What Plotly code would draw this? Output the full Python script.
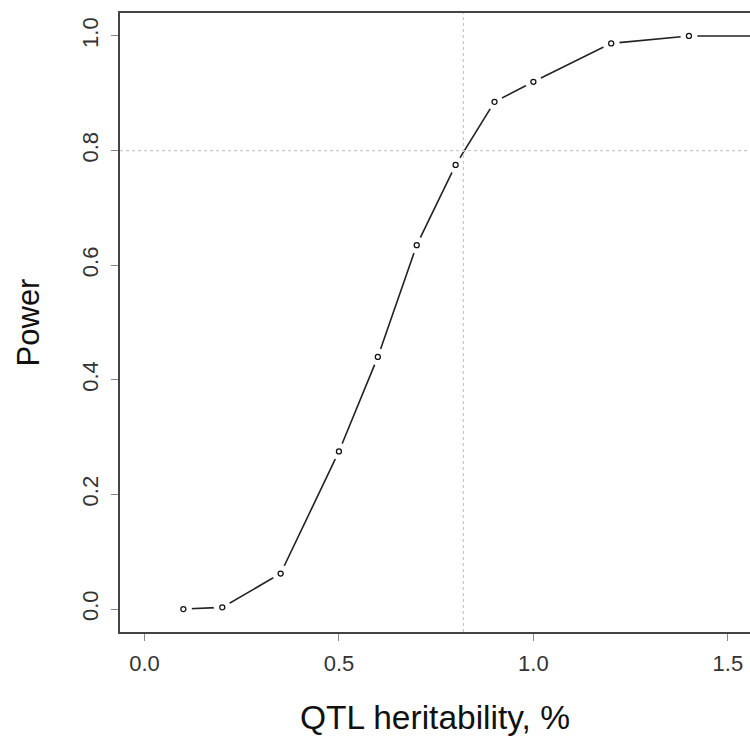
import plotly.graph_objects as go

heritability = [0.1, 0.2, 0.35, 0.5, 0.6, 0.7, 0.8, 0.9, 1.0, 1.2, 1.4, 1.6]
power = [0.0, 0.003, 0.062, 0.275, 0.44, 0.635, 0.775, 0.885, 0.92, 0.987, 1.0, 1.0]
x_ticks = [0.0, 0.5, 1.0, 1.5]
x_tick_labels = ["0.0", "0.5", "1.0", "1.5"]
y_ticks = [0.0, 0.2, 0.4, 0.6, 0.8, 1.0]
y_tick_labels = ["0.0", "0.2", "0.4", "0.6", "0.8", "1.0"]
ref_x = 0.82
ref_y = 0.8

FONT = "Liberation Sans, Arial, sans-serif"

fig = go.Figure()
fig.add_trace(go.Scatter(x=heritability, y=power, mode="lines",
                         line=dict(color="#222222", width=1.6), hoverinfo="skip"))
fig.add_trace(go.Scatter(x=heritability, y=power, mode="markers",
                         marker=dict(color="white", size=17, line=dict(width=0)), hoverinfo="skip"))
fig.add_trace(go.Scatter(x=heritability, y=power, mode="markers",
                         marker=dict(symbol="circle-open", color="#111111", size=5,
                                     line=dict(width=1.3, color="#111111"))))

fig.add_shape(type="line", xref="x", yref="paper", x0=ref_x, x1=ref_x, y0=0, y1=1,
              line=dict(color="#c8c8c8", width=1.2, dash="dot"), layer="above")
fig.add_shape(type="line", xref="paper", yref="y", x0=0, x1=1, y0=ref_y, y1=ref_y,
              line=dict(color="#c8c8c8", width=1.2, dash="dot"), layer="above")

fig.update_layout(
    width=750, height=738,
    margin=dict(l=120, r=0, t=13, b=106, autoexpand=False),
    paper_bgcolor="white", plot_bgcolor="white",
    showlegend=False,
    font=dict(family=FONT, color="#333333"),
    xaxis=dict(range=[-0.063, 1.557], tickvals=x_ticks, ticktext=x_tick_labels,
               showgrid=False, zeroline=False, showline=True, linecolor="#444444", linewidth=1.5,
               mirror=True, ticks="outside", ticklen=7, tickcolor="#888888", tickwidth=1.2,
               tickfont=dict(size=22, color="#333333"), ticklabelstandoff=4, automargin=False,
               title=dict(text="QTL heritability, %", font=dict(size=33.5, color="#111111"), standoff=30)),
    yaxis=dict(range=[-0.04, 1.04], tickvals=y_ticks, ticktext=y_tick_labels,
               showgrid=False, zeroline=False, showline=True, linecolor="#444444", linewidth=1.5,
               ticks="outside", ticklen=7, tickcolor="#888888", tickwidth=1.2, tickangle=-90,
               tickfont=dict(size=22, color="#333333"), ticklabelstandoff=4, automargin=False,
               title=dict(text="Power", font=dict(size=31, color="#111111"), standoff=30)),
)

fig.write_html("out.html", config={"displayModeBar": False},
               post_script="document.body.style.margin='0';document.body.style.overflow='hidden';")
